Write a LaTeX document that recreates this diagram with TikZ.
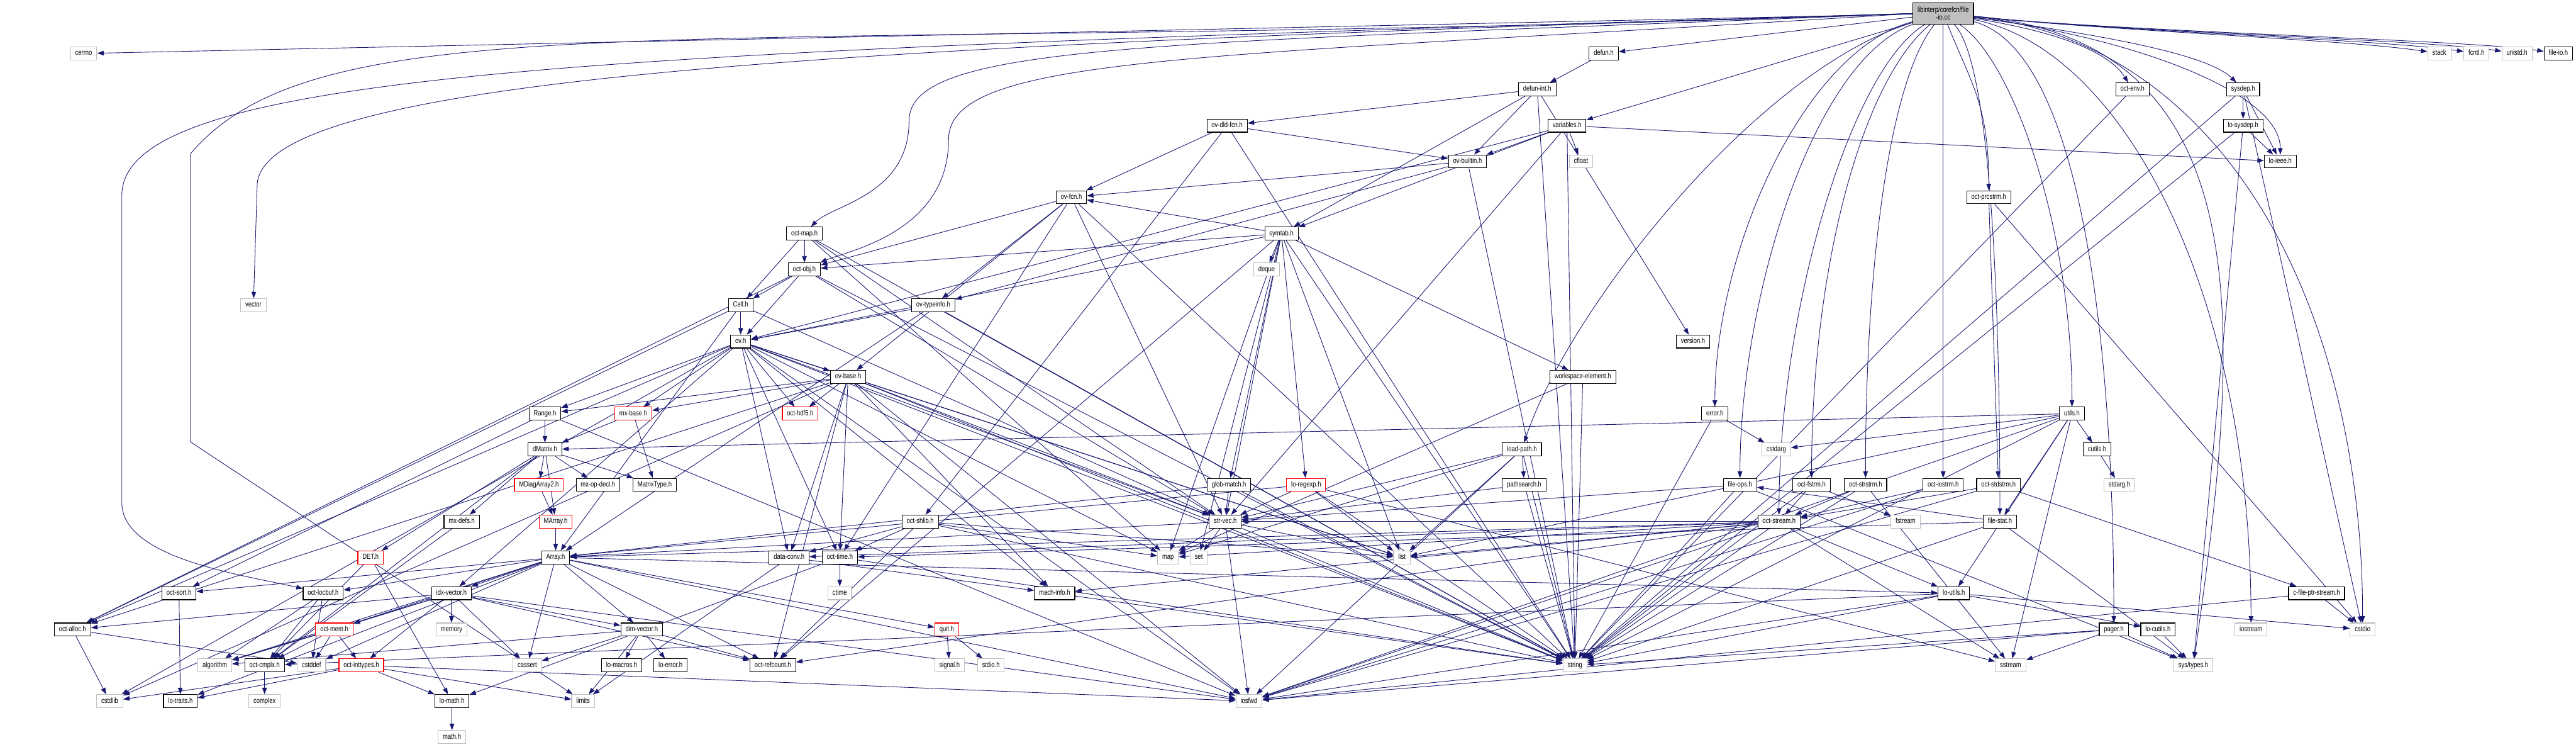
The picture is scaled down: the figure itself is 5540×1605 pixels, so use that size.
\documentclass[tikz,border=0pt]{standalone}
\usepackage{fontspec}
\usetikzlibrary{arrows.meta,backgrounds}
\newfontfamily\graphfont[FakeStretch=0.8]{Liberation Sans}
\definecolor{edgeblue}{RGB}{25,25,112}
\definecolor{sysgray}{RGB}{191,191,191}

\begin{document}
\begin{tikzpicture}[
    x=1pt, y=-1pt,
    hdr/.style={draw, line width=1.5pt, fill=white, minimum height=28pt, inner xsep=10pt, inner ysep=0pt,
        text height=11.5pt, text depth=3.5pt, font=\graphfont\fontsize{16}{18}\selectfont},
    local file/.style={hdr, draw=black},
    system file/.style={hdr, draw=sysgray},
    cut file/.style={hdr, draw=red},
    main file/.style={draw=black, line width=1.5pt, fill=sysgray, align=center, minimum height=46pt,
        inner xsep=10pt, font=\graphfont\fontsize{16}{17}\selectfont},
    dep/.style={color=edgeblue, draw, line width=1.2pt, -{Triangle[length=14pt,width=10pt]}}
]
\useasboundingbox (0,0) rectangle (5540,1605);

% Main file
\node[main file] (root) at (4179, 29) {libinterp/corefcn/file\\-io.cc};

% Rank 1
\node[system file] (cerrno) at (180, 115) {cerrno};
\node[local file] (defun) at (3449, 115) {defun.h};
\node[system file] (stack) at (5246, 115) {stack};
\node[system file] (fcntl) at (5326, 115) {fcntl.h};
\node[system file] (unistd) at (5413, 115) {unistd.h};
\node[local file] (fileioh) at (5502, 115) {file-io.h};

% Rank 2
\node[local file] (defunint) at (3306, 192) {defun-int.h};
\node[local file] (octenv) at (4586, 192) {oct-env.h};
\node[local file] (sysdep) at (4824, 192) {sysdep.h};

% Rank 3
\node[local file] (ovdld) at (2639, 270) {ov-dld-fcn.h};
\node[local file] (variables) at (3370, 270) {variables.h};
\node[local file] (losysdep) at (4824, 270) {lo-sysdep.h};

% Rank 4
\node[local file] (ovbuiltin) at (3156, 347) {ov-builtin.h};
\node[system file] (cfloat) at (3400, 347) {cfloat};
\node[local file] (loieee) at (4904, 347) {lo-ieee.h};

% Rank 5
\node[local file] (ovfcn) at (2304, 424) {ov-fcn.h};
\node[local file] (octprcstrm) at (4277, 424) {oct-prcstrm.h};

% Rank 6
\node[local file] (octmap) at (1730, 502) {oct-map.h};
\node[local file] (symtab) at (2756, 502) {symtab.h};

% Rank 7
\node[local file] (octobj) at (1730, 579) {oct-obj.h};
\node[system file] (deque) at (2724, 579) {deque};

% Rank 8
\node[system file] (vector) at (545, 656) {vector};
\node[local file] (cell) at (1593, 656) {Cell.h};
\node[local file] (ovtypeinfo) at (2007, 656) {ov-typeinfo.h};

% Rank 9
\node[local file] (ovh) at (1593, 734) {ov.h};
\node[local file] (version) at (3641, 734) {version.h};

% Rank 10
\node[local file] (ovbase) at (1824, 810) {ov-base.h};
\node[local file] (workspace) at (3404, 810) {workspace-element.h};

% Rank 11
\node[local file] (range) at (1172, 889) {Range.h};
\node[cut file] (mxbase) at (1362, 889) {mx-base.h};
\node[cut file] (octhdf) at (1721, 889) {oct-hdf5.h};
\node[local file] (error) at (3688, 889) {error.h};
\node[local file] (utils) at (4456, 889) {utils.h};

% Rank 12
\node[local file] (dmatrix) at (1172, 966) {dMatrix.h};
\node[local file] (loadpath) at (3273, 966) {load-path.h};
\node[system file] (cstdarg) at (3820, 966) {cstdarg};
\node[local file] (cutils) at (4510, 966) {cutils.h};

% Rank 13
\node[cut file] (mdiag) at (1159, 1042) {MDiagArray2.h};
\node[local file] (mxopdecl) at (1286, 1042) {mx-op-decl.h};
\node[local file] (matrixtype) at (1408, 1042) {MatrixType.h};
\node[local file] (globmatch) at (2643, 1042) {glob-match.h};
\node[cut file] (loregexp) at (2809, 1042) {lo-regexp.h};
\node[local file] (pathsearch) at (3278, 1042) {pathsearch.h};
\node[local file] (fileops) at (3742, 1042) {file-ops.h};
\node[local file] (octfstrm) at (3896, 1042) {oct-fstrm.h};
\node[local file] (octstrstrm) at (4012, 1042) {oct-strstrm.h};
\node[local file] (octiostrm) at (4179, 1042) {oct-iostrm.h};
\node[local file] (octstdstrm) at (4298, 1042) {oct-stdstrm.h};
\node[system file] (stdargh) at (4558, 1042) {stdarg.h};

% Rank 14
\node[local file] (mxdefs) at (993, 1121) {mx-defs.h};
\node[cut file] (marray) at (1195, 1121) {MArray.h};
\node[local file] (octshlib) at (1979, 1121) {oct-shlib.h};
\node[local file] (strvec) at (2635, 1121) {str-vec.h};
\node[local file] (octstream) at (3826, 1121) {oct-stream.h};
\node[system file] (fstream) at (4098, 1121) {fstream};
\node[local file] (filestat) at (4301, 1121) {file-stat.h};

% Rank 15
\node[cut file] (det) at (797, 1198) {DET.h};
\node[local file] (array) at (1195, 1198) {Array.h};
\node[local file] (dataconv) at (1697, 1198) {data-conv.h};
\node[local file] (octtime) at (1806, 1198) {oct-time.h};
\node[system file] (map) at (2512, 1198) {map};
\node[system file] (set) at (2578, 1198) {set};
\node[system file] (list) at (3015, 1198) {list};

% Rank 16
\node[local file] (octsort) at (385, 1275) {oct-sort.h};
\node[local file] (octlocbuf) at (695, 1275) {oct-locbuf.h};
\node[local file] (idxvector) at (971, 1275) {idx-vector.h};
\node[system file] (ctime) at (1806, 1275) {ctime};
\node[local file] (machinfo) at (2268, 1275) {mach-info.h};
\node[local file] (loutils) at (4202, 1275) {lo-utils.h};
\node[local file] (cfileptr) at (4982, 1275) {c-file-ptr-stream.h};

% Rank 17
\node[local file] (octalloc) at (156, 1353) {oct-alloc.h};
\node[cut file] (octmem) at (719, 1353) {oct-mem.h};
\node[system file] (memory) at (971, 1353) {memory};
\node[local file] (dimvector) at (1380, 1353) {dim-vector.h};
\node[cut file] (quit) at (2036, 1353) {quit.h};
\node[local file] (pager) at (4546, 1353) {pager.h};
\node[local file] (locutils) at (4641, 1353) {lo-cutils.h};
\node[system file] (iostream) at (4841, 1353) {iostream};
\node[system file] (cstdio) at (5081, 1353) {cstdio};

% Rank 18
\node[system file] (algorithm) at (462, 1430) {algorithm};
\node[local file] (octcmplx) at (569, 1430) {oct-cmplx.h};
\node[system file] (cstddef) at (670, 1430) {cstddef};
\node[cut file] (octinttypes) at (777, 1430) {oct-inttypes.h};
\node[system file] (cassert) at (1134, 1430) {cassert};
\node[local file] (lomacros) at (1337, 1430) {lo-macros.h};
\node[local file] (loerror) at (1442, 1430) {lo-error.h};
\node[local file] (octrefcount) at (1662, 1430) {oct-refcount.h};
\node[system file] (signal) at (2042, 1430) {signal.h};
\node[system file] (stdio) at (2131, 1430) {stdio.h};
\node[system file] (string) at (3387, 1430) {string};
\node[system file] (sstream) at (4324, 1430) {sstream};
\node[system file] (systypes) at (4717, 1430) {sys/types.h};

% Rank 19
\node[system file] (cstdlib) at (236, 1507) {cstdlib};
\node[local file] (lotraits) at (388, 1507) {lo-traits.h};
\node[system file] (complex) at (569, 1507) {complex};
\node[local file] (lomath) at (972, 1507) {lo-math.h};
\node[system file] (limits) at (1254, 1507) {limits};
\node[system file] (iosfwd) at (2686, 1507) {iosfwd};

% Rank 20
\node[system file] (mathh) at (972, 1584) {math.h};

% Include edges
\begin{scope}[on background layer]
% long routes from the main file along the top
\draw[dep] (root.west) .. controls (2000,95) and (553,150) .. (553,400) -- (vector);
\draw[dep] (root.west) .. controls (1400,110) and (262,140) .. (262,420) -- (262,1080)
    .. controls (262,1200) and (520,1235) .. (octlocbuf);
\draw[dep] (root.west) .. controls (1500,125) and (700,-10) .. (410,330) -- (410,950) -- (limits);
\draw[dep] (root.west) .. controls (2500,95) and (1955,90) .. (1955,260)
    .. controls (1955,420) and (1790,440) .. (octmap);
\draw[dep] (root.west) .. controls (2600,125) and (2040,115) .. (2040,300)
    .. controls (2040,500) and (1820,540) .. (octobj);
% routes from the main file dropping down
\draw[dep] (root) .. controls +(-300,80) and +(0,-350) .. (error);
\draw[dep] (root) .. controls +(-280,100) and +(0,-400) .. (fileops);
\draw[dep] (root) .. controls +(-200,120) and +(0,-450) .. (octstream);
\draw[dep] (root) .. controls +(-180,150) and +(0,-450) .. (octfstrm);
\draw[dep] (root) .. controls +(-120,150) and +(0,-450) .. (octstrstrm);
\draw[dep] (root) -- (octiostrm);
\draw[dep] (root) .. controls +(60,150) and +(0,-200) .. (octprcstrm);
\draw[dep] (root) .. controls +(-400,120) and +(100,-300) .. (loadpath);
\draw[dep] (root) .. controls +(250,40) and +(-50,-80) .. (octenv);
\draw[dep] (root) .. controls +(300,40) and +(-80,-80) .. (sysdep);
\draw[dep] (root) .. controls +(400,50) and +(0,-150) .. (loieee);
\draw[dep] (root) .. controls +(150,100) and +(0,-400) .. (utils);
\draw[dep] (root) .. controls +(100,100) and +(0,-500) .. (filestat);
\draw[dep] (root) .. controls +(300,80) and +(0,-600) .. (pager);
\draw[dep] (root) .. controls +(400,80) and +(0,-700) .. (iostream);
\draw[dep] (root) .. controls +(600,60) and +(0,-700) .. (cstdio);
\draw[dep] (root) .. controls +(700,60) and +(100,-700) .. (systypes);
\draw[dep] (root) .. controls +(400,40) and +(-200,-30) .. (stack);
\draw[dep] (root) .. controls +(400,40) and +(-200,-30) .. (fcntl);
\draw[dep] (root) .. controls +(400,40) and +(-200,-30) .. (unistd);
\draw[dep] (root) .. controls +(400,40) and +(-200,-30) .. (fileioh);
\path[dep] (root) edge (cerrno) edge (defun) edge (variables);
\path[dep] (defun) edge (defunint);
\path[dep] (defunint) edge (ovdld) edge (ovbuiltin) edge (symtab) edge (version) edge (string);
\path[dep] (variables) edge (cfloat) edge (ovbuiltin) edge (symtab) edge (ovh) edge (loieee) edge (string) edge (strvec);
\path[dep] (ovdld) edge (ovfcn) edge (ovbuiltin) edge (octshlib) edge (string);
\path[dep] (ovbuiltin) edge (ovfcn) edge (ovtypeinfo) edge (string);
\path[dep] (ovfcn) edge (octobj) edge (ovbase) edge (ovtypeinfo) edge (octtime) edge (strvec) edge (string);
\path[dep] (symtab) edge (deque) edge (list) edge (map) edge (set) edge (string) edge (globmatch) edge (loregexp)
    edge (octrefcount) edge (ovh) edge (ovfcn) edge (octobj) edge (workspace) edge (strvec);
\path[dep] (octmap) edge (octobj) edge (cell) edge (map) edge (string) edge (strvec);
\path[dep] (octobj) edge (cell) edge (ovh) edge (octalloc) edge (strvec) edge (string);
\path[dep] (cell) edge (ovh) edge (array) edge (octalloc) edge (strvec);
\path[dep] (ovtypeinfo) edge (ovh) edge (array) edge (string);
\path[dep] (ovh) edge (ovbase) edge (range) edge (mxbase) edge (idxvector) edge (octtime) edge (strvec) edge (octhdf)
    edge (octalloc) edge (dataconv) edge (machinfo) edge (list) edge (map) edge (string) edge (iosfwd) edge (cstdlib);
\path[dep] (ovbase) edge (octhdf) edge (dataconv) edge (octtime) edge (machinfo) edge (strvec) edge (range)
    edge (mxbase) edge (octalloc) edge (octrefcount) edge (list) edge (string) edge (iosfwd) edge (cstdlib);
\path[dep] (range) edge (dmatrix) edge (octsort) edge (iosfwd);
\path[dep] (mxbase) edge (dmatrix) edge (matrixtype);
\path[dep] (dmatrix) edge (mdiag) edge (mxopdecl) edge (matrixtype) edge (mxdefs) edge (marray) edge (det) edge (octcmplx);
\path[dep] (mdiag) edge (marray);
\path[dep] (marray) edge (array);
\path[dep] (mxdefs) edge (octcmplx);
\path[dep] (det) edge (octcmplx) edge (lomath);
\path[dep] (array) edge (dimvector) edge (idxvector) edge (lotraits) edge (loutils) edge (octsort) edge (quit)
    edge (octrefcount) edge (octmem) edge (octlocbuf) edge (cassert) edge (algorithm) edge (cstddef) edge (iosfwd);
\path[dep] (idxvector) edge (cassert) edge (algorithm) edge (memory) edge (dimvector) edge (octinttypes)
    edge (octalloc) edge (octmem) edge (octrefcount) edge (iosfwd);
\path[dep] (dimvector) edge (cassert) edge (lomacros) edge (limits) edge (loerror) edge (octrefcount) edge (algorithm);
\path[dep] (octmem) edge (cstddef) edge (algorithm) edge (octcmplx) edge (octinttypes);
\path[dep] (octinttypes) edge (cstdlib) edge (limits) edge (lotraits) edge (lomath) edge (iosfwd);
\path[dep] (octcmplx) edge (complex);
\path[dep] (lomath) edge (mathh);
\path[dep] (octsort) edge (lotraits);
\path[dep] (octlocbuf) edge (cstddef) edge (octcmplx) edge (algorithm);
\path[dep] (octalloc) edge (cstdlib) edge (cstddef);
\path[dep] (dataconv) edge (limits) edge (machinfo);
\path[dep] (octtime) edge (ctime) edge (string) edge (lomath);
\path[dep] (machinfo) edge (string);
\path[dep] (octshlib) edge (octtime) edge (dataconv) edge (octrefcount) edge (string) edge (map) edge (list);
\path[dep] (quit) edge (signal) edge (stdio);
\path[dep] (strvec) edge (iosfwd) edge (list) edge (string) edge (map) edge (set) edge (array);
\path[dep] (globmatch) edge (strvec) edge (string) edge (array);
\path[dep] (loregexp) edge (strvec) edge (list) edge (string) edge (sstream) edge (array);
\path[dep] (loadpath) edge (pathsearch) edge (strvec) edge (list) edge (map) edge (string) edge (iosfwd);
\path[dep] (pathsearch) edge (strvec) edge (string);
\path[dep] (fileops) edge (strvec) edge (string) edge (systypes);
\path[dep] (octfstrm) edge (octstream) edge (fstream) edge (string);
\path[dep] (octstrstrm) edge (octstream) edge (sstream) edge (string);
\path[dep] (octiostrm) edge (octstream) edge (iosfwd);
\path[dep] (octprcstrm) edge (octstdstrm) edge (cstdio);
\path[dep] (octstdstrm) edge (octstream) edge (cfileptr) edge (iosfwd);
\path[dep] (cfileptr) edge (cstdio) edge (iosfwd);
\path[dep] (octstream) edge (iosfwd) edge (sstream) edge (string) edge (map) edge (list) edge (array)
    edge (dataconv) edge (loutils) edge (machinfo) edge (octrefcount) edge (strvec);
\path[dep] (error) edge (cstdarg) edge (string);
\path[dep] (loutils) edge (cstdio) edge (iosfwd) edge (string) edge (octcmplx) edge (locutils);
\path[dep] (utils) edge (cutils) edge (filestat) edge (loutils) edge (dmatrix) edge (string) edge (iosfwd)
    edge (list) edge (cstdarg) edge (sstream);
\path[dep] (cutils) edge (stdargh);
\path[dep] (filestat) edge (systypes) edge (octtime) edge (fileops) edge (string);
\path[dep] (pager) edge (iosfwd) edge (sstream) edge (string) edge (systypes);
\path[dep] (locutils) edge (systypes);
\path[dep] (sysdep) edge (cstdio) edge (string) edge (loieee) edge (losysdep);
\path[dep] (losysdep) edge (string) edge (loieee) edge (systypes);
\path[dep] (octenv) edge (string);
\path[dep] (workspace) edge (string) edge (map);
\end{scope}

\end{tikzpicture}
\end{document}
